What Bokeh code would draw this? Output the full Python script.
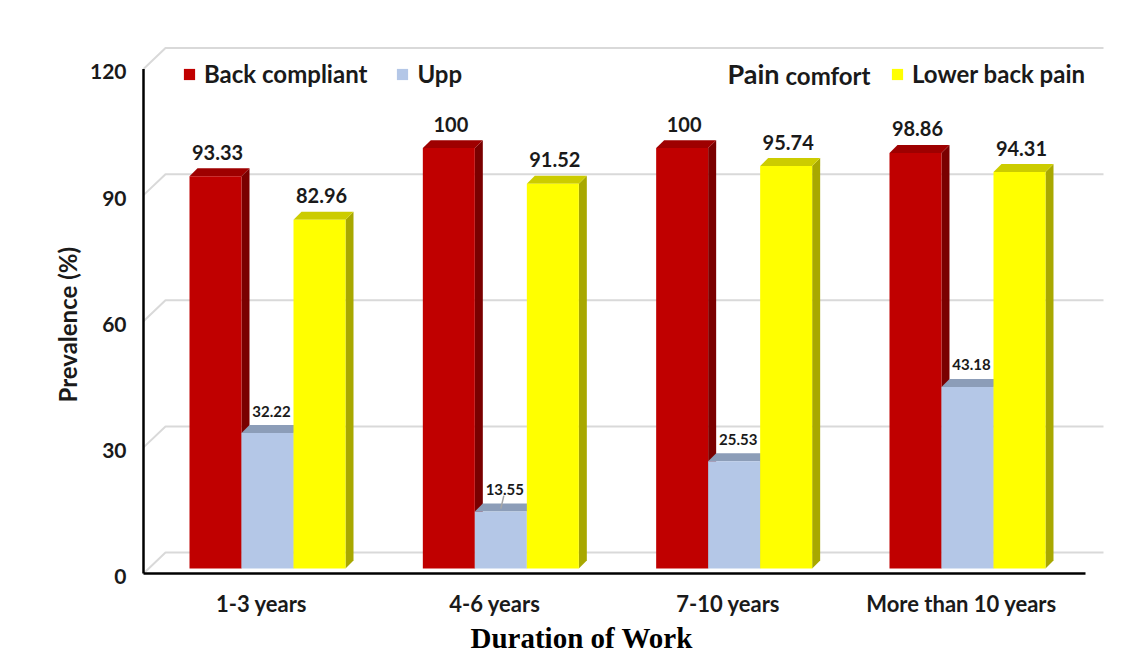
from bokeh.plotting import figure
from bokeh.models import Range1d, LinearAxis, FixedTicker, Legend, LegendItem, Title
from bokeh.core.properties import value
from bokeh.embed import file_html
from bokeh.resources import INLINE

# ---------------- data ----------------
categories = ["1-3 years", "4-6 years", "7-10 years", "More than 10 years"]
back_compliant = [93.33, 100, 100, 98.86]
upper = [32.22, 13.55, 25.53, 43.18]
lower_back_pain = [82.96, 91.52, 95.74, 94.31]
series_names = ["Back compliant", "Upp", "Lower back pain"]
y_ticks = [0, 30, 60, 90, 120]

# ---------------- geometry (page pixels; the page has no margin) ----------------
W, H = 1145, 653
PX_X = 233.33      # px per category step
PX_Y = 4.22        # px per percent
X0 = 267.0         # page x of first group centre
Y0 = 570.0         # page y of bar base
FL, FR, FT, FB = 140, 1110, 40, 580   # frame edges (page px)


def ux(px):
    return (px - X0) / PX_X


def vy(py):
    return (Y0 - py) / PX_Y


AX_SHIFT = 5.0 / PX_Y      # front (axis) plane below bar base
AX_LAB_SHIFT = 8.0 / PX_Y  # tick labels of the front axis
BACK_SHIFT = 16.0 / PX_Y   # back wall above bar base
LAB_SHIFT = 6.0 / PX_X
BW = 52.0 / PX_X
DX = 8.0 / PX_X
DY = 8.0 / PX_Y

FONT = value("Lato")

p = figure(width=W, height=H,
           x_range=Range1d(ux(FL), ux(FR)), y_range=Range1d(vy(FB), vy(FT)),
           output_backend="svg", toolbar_location=None,
           x_axis_location=None, y_axis_location=None,
           min_border_left=FL, min_border_right=W - FR,
           min_border_top=FT, min_border_bottom=H - FB)
p.grid.visible = False
p.outline_line_color = None
p.background_fill_color = "white"
p.border_fill_color = "white"

p.extra_y_ranges = {"ax": Range1d(vy(FB) + AX_LAB_SHIFT, vy(FT) + AX_LAB_SHIFT)}
p.extra_x_ranges = {"lab": Range1d(ux(FL) + LAB_SHIFT, ux(FR) + LAB_SHIFT)}

# ---------------- back wall gridlines ----------------
gx, gy = [], []
for g in y_ticks:
    gx.append([ux(143), ux(165), ux(1103)])
    gy.append([g - AX_SHIFT, g + BACK_SHIFT, g + BACK_SHIFT])
p.multi_line(gx, gy, line_color="#D9D9D9", line_width=2)

# ---------------- 3D bars ----------------
all_series = [back_compliant, upper, lower_back_pain]
front_cols = ["#C00000", "#B4C7E7", "#FFFF00"]
top_cols = ["#9E0000", "#8C9DB8", "#CCCC00"]
side_cols = ["#7A0000", "#8FA2C2", "#A8A800"]
offsets = [-BW, 0.0, BW]

fronts = []
for k, vals in enumerate(all_series):
    centers = [i + offsets[k] for i in range(len(categories))]
    lefts = [c - BW / 2 for c in centers]
    rights = [c + BW / 2 for c in centers]
    side_xs = [[r, r + DX, r + DX, r] for r in rights]
    side_ys = [[0, DY, v + DY, v] for v in vals]
    p.patches(side_xs, side_ys, fill_color=side_cols[k], line_color=None)
    top_xs = [[l, r, r + DX, l + DX] for l, r in zip(lefts, rights)]
    top_ys = [[v, v, v + DY, v + DY] for v in vals]
    p.patches(top_xs, top_ys, fill_color=top_cols[k], line_color=None)
    fr = p.quad(left=lefts, right=rights, bottom=[0] * len(vals), top=vals,
                fill_color=front_cols[k], line_color=None)
    fronts.append(fr)
    labels = [f"{v:g}" for v in vals]
    if k == 1:
        p.text([c + 4 / PX_X for c in centers], vals, text=labels,
               text_font=FONT, text_font_style="bold", text_font_size="15px",
               text_align="center", text_baseline="alphabetic", y_offset=-22,
               text_color="#1A1A1A")
    else:
        p.text([c + 2 / PX_X for c in centers], vals, text=labels,
               text_font=FONT, text_font_style="bold", text_font_size="20px",
               text_align="center", text_baseline="alphabetic", y_offset=-24,
               text_color="#1A1A1A")

# leader line of the small upper-back label
i_small = upper.index(min(upper))
cb = i_small + offsets[1]
p.segment(x0=[cb + 3 / PX_X], y0=[upper[i_small] + 16 / PX_Y],
          x1=[cb], y1=[upper[i_small] + 3 / PX_Y],
          line_color="#A6A6A6", line_width=1.5)

# ---------------- axis lines ----------------
p.segment(x0=[ux(143), ux(143)], y0=[y_ticks[0] - AX_SHIFT, y_ticks[0] - AX_SHIFT],
          x1=[ux(143), ux(1085)], y1=[y_ticks[-1] - AX_SHIFT, y_ticks[0] - AX_SHIFT],
          line_color="black", line_width=2.5)

# ---------------- axes ----------------
yax = LinearAxis(y_range_name="ax", ticker=FixedTicker(ticks=y_ticks))
yax.axis_line_color = None
yax.major_tick_line_color = None
yax.minor_tick_line_color = None
yax.major_label_standoff = 8
yax.major_label_text_font = "Lato"
yax.major_label_text_font_style = "bold"
yax.major_label_text_font_size = "21px"
yax.major_label_text_color = "#1A1A1A"
p.add_layout(yax, "left")

xax = LinearAxis(x_range_name="lab", ticker=FixedTicker(ticks=list(range(len(categories)))))
xax.major_label_overrides = {i: c for i, c in enumerate(categories)}
xax.axis_line_color = None
xax.major_tick_line_color = None
xax.minor_tick_line_color = None
xax.major_label_standoff = 5
xax.major_label_text_font = "Lato"
xax.major_label_text_font_style = "bold"
xax.major_label_text_font_size = "22px"
xax.major_label_text_color = "#1A1A1A"
p.add_layout(xax, "below")

ytitle = Title(text="Prevalence (%)", align="left", offset=176, standoff=10,
               text_font="Lato", text_font_style="bold", text_font_size="24px",
               text_color="#1A1A1A")
p.add_layout(ytitle, "left")

xtitle = Title(text="Duration of Work", align="left", offset=330, standoff=0,
               text_font="Liberation Serif", text_font_style="bold", text_font_size="29px",
               text_color="black")
p.add_layout(xtitle, "below")

# ---------------- legend ----------------
leg_kw = dict(orientation="horizontal", glyph_width=14, glyph_height=14,
              label_standoff=8, spacing=28, padding=0, margin=0,
              border_line_color=None, background_fill_alpha=0,
              label_text_font="Lato", label_text_font_style="bold",
              label_text_font_size="24px", label_text_color="#1A1A1A")
leg1 = Legend(items=[LegendItem(label=series_names[0], renderers=[fronts[0]]),
                     LegendItem(label=series_names[1], renderers=[fronts[1]])],
              location=(42, 490), **leg_kw)
leg2 = Legend(items=[LegendItem(label=series_names[2], renderers=[fronts[2]])],
              location=(750, 490), **leg_kw)
p.add_layout(leg1)
p.add_layout(leg2)

p.text([ux(727)], [vy(73)], text=["Pain"], text_font=FONT, text_font_style="bold",
       text_font_size="27px", text_baseline="alphabetic", text_color="#1A1A1A")
p.text([ux(785)], [vy(75)], text=["comfort"], text_font=FONT, text_font_style="bold",
       text_font_size="24px", text_baseline="alphabetic", text_color="#1A1A1A")

open("out.html", "w").write(file_html(p, INLINE))
